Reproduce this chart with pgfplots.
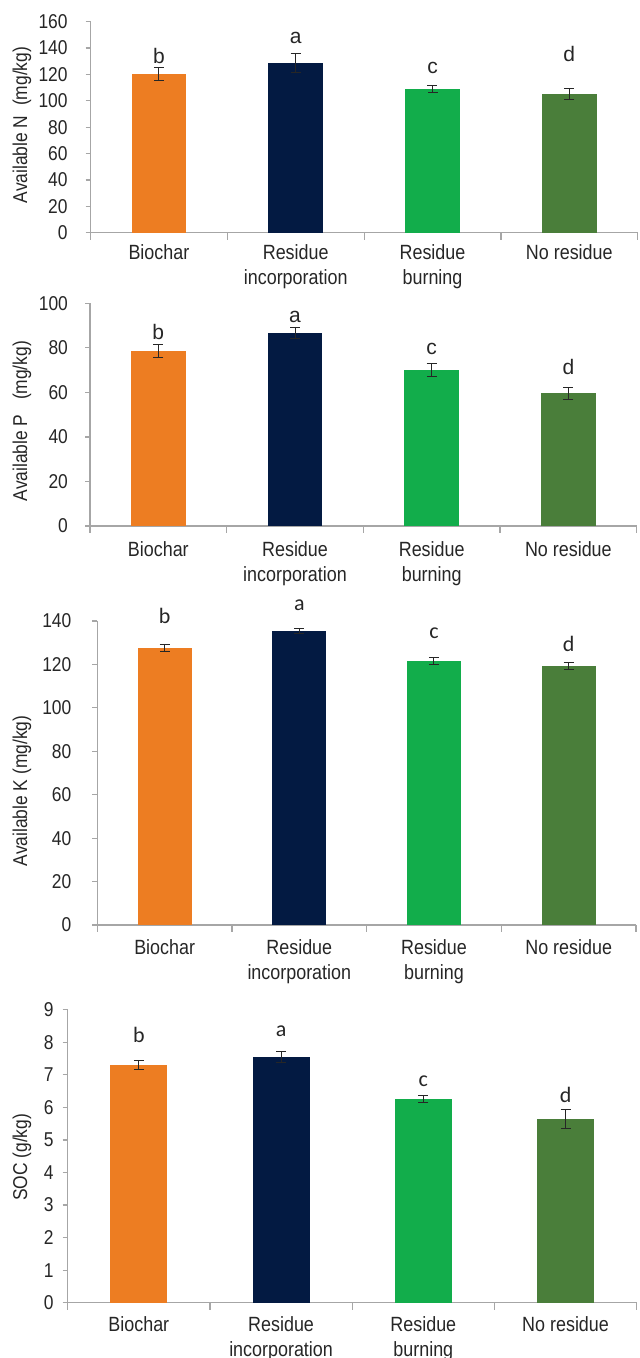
\documentclass[border=0pt]{standalone}
\usepackage{fontspec}
\setmainfont{Liberation Sans}[FakeStretch=0.87]
\newfontfamily\lsans{Liberation Sans}
\newfontfamily\calib{Carlito}
\usepackage{pgfplots}
\pgfplotsset{compat=1.18}
\definecolor{cOr}{HTML}{ED7D22}
\definecolor{cNv}{HTML}{031A42}
\definecolor{cGr}{HTML}{12AD4B}
\definecolor{cDg}{HTML}{4A7E3A}
\definecolor{axgray}{HTML}{A6A6A6}
\pgfplotsset{
  panel/.style={
    scale only axis, clip=false,
    xmin=-0.5, xmax=3.5, ymin=0,
    axis lines*=left,
    axis line style={axgray, line width=0.6pt},
    xtick={0,1,2,3},
    xticklabels={Biochar,{Residue\\incorporation},{Residue\\burning},No residue},
    minor xtick={-0.5,0.5,1.5,2.5,3.5},
    tick align=outside,
    major tick length=2.5pt,
    minor tick length=3.5pt,
    tick style={axgray, line width=0.6pt},
    major x tick style={draw=none},
    xticklabel style={font=\fontsize{10.3}{12.5}\selectfont, align=center, anchor=north, inner sep=0pt, text=black!85},
    yticklabel style={font=\fontsize{10}{12}\selectfont, anchor=east, inner sep=0pt, text=black!85},
    ylabel style={font=\fontsize{10}{12}\selectfont, anchor=center, text=black!85},
    /pgf/number format/assume math mode=true,
  },
  bb/.style={ybar, bar width=0.4, bar shift=0pt, fill=#1, draw=none,
    error bars/.cd, y dir=both, y explicit,
    error bar style={draw=black!85, line width=0.5pt},
    error mark options={rotate=90, mark size=2.5pt, draw=black!85, line width=0.5pt}},
}
\tikzset{
  ltA/.style={font=\lsans\fontsize{10.5}{12}\selectfont, text=black!85, anchor=center},
  ltB/.style={font=\calib\fontsize{11}{12}\selectfont, text=black!85, anchor=center},
}
\begin{document}
\begin{tikzpicture}
\useasboundingbox (0,0) rectangle (319.5pt,679pt);
% Panel 1
\begin{axis}[panel, at={(45.25pt,562.65pt)}, anchor=south west,
  width=273.6pt, height=105.5pt, ymax=160, ytick={0,20,...,160},
  xticklabel style={yshift=-3.3pt}, yticklabel style={xshift=-8.75pt},
  ylabel={Available N\ \ (mg/kg)},
  ylabel style={at={(axis description cs:-0.1252,0.51)}}]
\addplot[bb=cOr] coordinates {(0,120.3) +- (0,4.8)};
\addplot[bb=cNv] coordinates {(1,128.7) +- (0,7.3)};
\addplot[bb=cGr] coordinates {(2,109.0) +- (0,2.8)};
\addplot[bb=cDg] coordinates {(3,105.2) +- (0,3.9)};
\node[ltA] at (axis cs:0,134) {b};
\node[ltA] at (axis cs:1,147.4) {a};
\node[ltA] at (axis cs:2,124.6) {c};
\node[ltA] at (axis cs:3,135.5) {d};
\end{axis}
% Panel 2
\begin{axis}[panel, at={(45pt,416pt)}, anchor=south west,
  width=273.35pt, height=111.35pt, ymax=100, ytick={0,20,...,100},
  xticklabel style={yshift=-5.3pt}, yticklabel style={xshift=-8.35pt},
  ylabel={Available P\ \ \ (mg/kg)},
  ylabel style={at={(axis description cs:-0.1244,0.471)}}]
\addplot[bb=cOr] coordinates {(0,78.6) +- (0,2.8)};
\addplot[bb=cNv] coordinates {(1,86.7) +- (0,2.5)};
\addplot[bb=cGr] coordinates {(2,70.0) +- (0,3.1)};
\addplot[bb=cDg] coordinates {(3,59.7) +- (0,2.7)};
\node[ltA] at (axis cs:0,87.3) {b};
\node[ltA] at (axis cs:1,94) {a};
\node[ltA] at (axis cs:2,79.3) {c};
\node[ltA] at (axis cs:3,71.3) {d};
\end{axis}
% Panel 3
\begin{axis}[panel, at={(48.65pt,216.5pt)}, anchor=south west,
  width=269.35pt, height=152pt, ymax=140, ytick={0,20,...,140},
  xticklabel style={yshift=-4.75pt}, yticklabel style={xshift=-10.3pt},
  ylabel={Available K (mg/kg)},
  ylabel style={at={(axis description cs:-0.1398,0.441)}}]
\addplot[bb=cOr] coordinates {(0,127.6) +- (0,1.5)};
\addplot[bb=cNv] coordinates {(1,135.4) +- (0,1.2)};
\addplot[bb=cGr] coordinates {(2,121.6) +- (0,1.6)};
\addplot[bb=cDg] coordinates {(3,119.3) +- (0,1.5)};
\node[ltB] at (axis cs:0,142.5) {b};
\node[ltB] at (axis cs:1,147.4) {a};
\node[ltB] at (axis cs:2,134.5) {c};
\node[ltB] at (axis cs:3,129.4) {d};
\end{axis}
% Panel 4
\begin{axis}[panel, at={(33.85pt,27.65pt)}, anchor=south west,
  width=284.5pt, height=146.5pt, ymax=9, ytick={0,1,...,9},
  xticklabel style={yshift=-4pt}, yticklabel style={xshift=-4.35pt},
  ylabel={SOC (g/kg)},
  ylabel style={at={(axis description cs:-0.0803,0.496)}}]
\addplot[bb=cOr] coordinates {(0,7.30) +- (0,0.15)};
\addplot[bb=cNv] coordinates {(1,7.55) +- (0,0.18)};
\addplot[bb=cGr] coordinates {(2,6.26) +- (0,0.12)};
\addplot[bb=cDg] coordinates {(3,5.64) +- (0,0.29)};
\node[ltB] at (axis cs:0,8.22) {b};
\node[ltB] at (axis cs:1,8.33) {a};
\node[ltB] at (axis cs:2,6.81) {c};
\node[ltB] at (axis cs:3,6.37) {d};
\end{axis}
\end{tikzpicture}
\end{document}
